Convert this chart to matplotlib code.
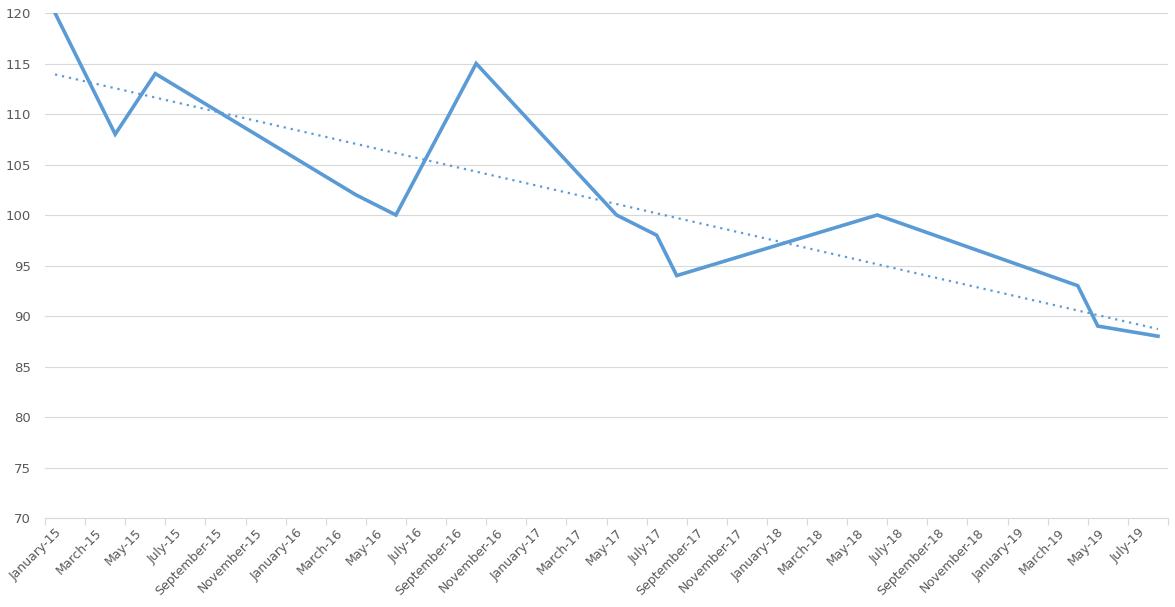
import numpy as np
import matplotlib
matplotlib.use('Agg')
import matplotlib.pyplot as plt

# monthly axis, January-15 .. August-19 (56 months)
months = ['January', 'February', 'March', 'April', 'May', 'June', 'July',
          'August', 'September', 'October', 'November', 'December']
month_labels = [f'{months[i % 12]}-{15 + i // 12}' for i in range(56)]

# data points: month index from January-15, value
point_months = [0, 3, 5, 15, 17, 21, 28, 30, 31, 41, 51, 52, 55]
point_values = [120, 108, 114, 102, 100, 115, 100, 98, 94, 100, 93, 89, 88]

color = '#5B9BD5'
grey = '#595959'

fig = plt.figure(figsize=(11.75, 6.07), dpi=100)
ax = fig.add_axes([45 / 1175, 1 - 518 / 607, 1123 / 1175, 505 / 607])

x = np.array(point_months) + 0.5
y = np.array(point_values)
ax.plot(x, y, color=color, lw=2.6, solid_joinstyle='miter', zorder=3)

# linear trendline
k, b = np.polyfit(x, y, 1)
ax.plot([x[0], x[-1]], [k * x[0] + b, k * x[-1] + b], color=color, lw=1.6,
        linestyle=(0, (1, 2.2)), zorder=2)

ax.set_xlim(0, 56)
ax.set_ylim(70, 120)
ax.set_yticks(range(70, 121, 5))
ax.yaxis.grid(True, color='#d9d9d9', lw=0.8)
ax.set_axisbelow(True)

ax.set_xticks(range(0, 57, 2))
ax.set_xticklabels([])
ax.set_xticks([i + 0.5 for i in range(0, 56, 2)], minor=True)
ax.set_xticklabels(month_labels[::2], minor=True, rotation=45, ha='right',
                   rotation_mode='anchor', color=grey, fontsize=9)
ax.tick_params(axis='x', which='major', length=5, color='#d9d9d9', width=0.8)
ax.tick_params(axis='x', which='minor', length=0, pad=6)
ax.tick_params(axis='y', length=0, pad=10, labelcolor=grey, labelsize=9.5)

for s in ['top', 'right', 'left']:
    ax.spines[s].set_visible(False)
ax.spines['bottom'].set_color('#d9d9d9')
ax.spines['bottom'].set_linewidth(0.8)

fig.savefig('out.png', dpi=100)
